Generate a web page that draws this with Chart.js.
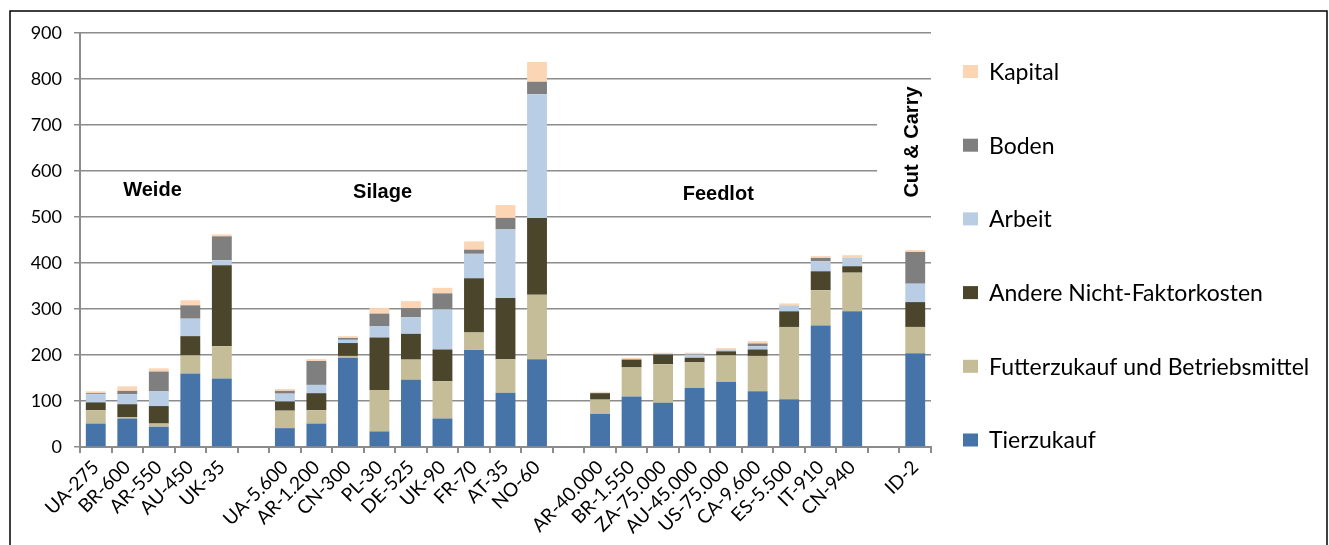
<!DOCTYPE html>
<html>
<head>
<meta charset="utf-8">
<script src="https://cdn.jsdelivr.net/npm/chart.js@4.4.1/dist/chart.umd.min.js"></script>
<style>
  html, body { margin: 0; padding: 0; background: #fff; }
  #wrap { width: 1329px; height: 545px; }
</style>
</head>
<body>
<div id="wrap"><canvas id="c" width="1329" height="545"></canvas></div>
<script>
// Production systems (country - herd size); empty strings separate the groups
const categories = [
  'UA-275', 'BR-600', 'AR-550', 'AU-450', 'UK-35', '',
  'UA-5.600', 'AR-1.200', 'CN-300', 'PL-30', 'DE-525', 'UK-90', 'FR-70', 'AT-35', 'NO-60', '',
  'AR-40.000', 'BR-1.550', 'ZA-75.000', 'AU-45.000', 'US-75.000', 'CA-9.600', 'ES-5.500', 'IT-910', 'CN-940', '',
  'ID-2'
];

// Cost components per system
const tierzukauf = [51, 62, 44, 160, 149, null, 41, 51, 194, 34, 146, 62, 211, 118, 191, null, 72, 110, 96, 128, 142, 121, 104, 264, 295, null, 204];
const futterzukauf = [29, 3, 7, 39, 70, null, 38, 29, 4, 90, 44, 81, 38, 73, 140, null, 31, 63, 84, 56, 57, 77, 157, 77, 84, null, 57];
const andereKosten = [17, 28, 38, 42, 176, null, 20, 37, 28, 114, 56, 69, 118, 133, 167, null, 14, 17, 21, 10, 9, 14, 34, 41, 14, null, 54];
const arbeit = [18, 22, 32, 38, 11, null, 17, 18, 7, 25, 36, 87, 53, 149, 269, null, 1, 1, 1, 7, 2, 7, 13, 22, 18, null, 40];
const boden = [2, 7, 43, 29, 52, null, 6, 52, 4, 27, 20, 35, 9, 25, 27, null, 0, 0, 0, 1, 1, 6, 0, 7, 0, null, 69];
const kapital = [4, 10, 7, 11, 4, null, 4, 4, 4, 12, 15, 12, 18, 28, 43, null, 2, 3, 3, 3, 4, 5, 4, 4, 6, null, 4];

const yTicks = [0, 100, 200, 300, 400, 500, 600, 700, 800, 900];

// Group captions: [text, category position, value position, rotated]
const groupLabels = [
  ['Weide', 1.8, 557, false],
  ['Silage', 9.1, 553, false],
  ['Feedlot', 19.75, 550, false],
  ['Cut & Carry', 25.9, 663, true]
];

const FONT = 'Lato, "Open Sans", sans-serif';
const GRID = '#8c8c8c';

const groupLabelPlugin = {
  id: 'groupLabels',
  beforeDatasetsDraw(chart) {
    const { ctx } = chart;
    const xs = chart.scales.x, ys = chart.scales.y;
    // white panel behind the vertical caption
    const cx = xs.getPixelForValue(25.9);
    ctx.save();
    ctx.fillStyle = '#fff';
    ctx.fillRect(cx - 35, ys.getPixelForValue(782), chart.chartArea.right - (cx - 35) + 1, ys.getPixelForValue(528) - ys.getPixelForValue(782));
    ctx.restore();
  },
  afterDatasetsDraw(chart) {
    const { ctx } = chart;
    const xs = chart.scales.x, ys = chart.scales.y;
    ctx.save();
    ctx.fillStyle = '#000';
    ctx.font = 'bold 20px "Liberation Sans", Arial, sans-serif';
    ctx.textAlign = 'center';
    ctx.textBaseline = 'middle';
    groupLabels.forEach(([t, xv, yv, rot]) => {
      const px = xs.getPixelForValue(xv), py = ys.getPixelForValue(yv);
      if (rot) {
        ctx.save();
        ctx.translate(px, py);
        ctx.rotate(-Math.PI / 2);
        ctx.fillText(t, 0, 0);
        ctx.restore();
      } else {
        ctx.fillText(t, px, py);
      }
    });
    ctx.restore();
  }
};

const sideLegendPlugin = {
  id: 'sideLegend',
  afterDraw(chart) {
    const { ctx } = chart;
    const items = chart.data.datasets.slice().reverse();
    ctx.save();
    ctx.font = '23px ' + FONT;
    ctx.textBaseline = 'middle';
    ctx.textAlign = 'left';
    items.forEach((ds, i) => {
      const y = 71.5 + i * 73.7;
      ctx.fillStyle = ds.backgroundColor;
      ctx.fillRect(963, y - 6.5, 15, 13);
      ctx.fillStyle = '#000';
      ctx.fillText(ds.label, 989, y + 1);
    });
    // outer frame
    ctx.strokeStyle = '#000';
    ctx.lineWidth = 1.5;
    ctx.strokeRect(10, 11, 1317, 560);
    ctx.restore();
  }
};

const whiteBg = {
  id: 'whiteBg',
  beforeDraw(chart) {
    const { ctx } = chart;
    ctx.save();
    ctx.fillStyle = '#fff';
    ctx.fillRect(0, 0, chart.width, chart.height);
    ctx.restore();
  }
};

const mk = (label, data, color) => ({
  label, data, backgroundColor: color, borderWidth: 0,
  categoryPercentage: 1, barPercentage: 0.63
});

new Chart(document.getElementById('c'), {
  type: 'bar',
  data: {
    labels: categories,
    datasets: [
      mk('Tierzukauf', tierzukauf, '#4674A8'),
      mk('Futterzukauf und Betriebsmittel', futterzukauf, '#C4BD97'),
      mk('Andere Nicht-Faktorkosten', andereKosten, '#4A452B'),
      mk('Arbeit', arbeit, '#B9CDE5'),
      mk('Boden', boden, '#7F7F7F'),
      mk('Kapital', kapital, '#FCD5B5')
    ]
  },
  options: {
    responsive: false,
    animation: false,
    layout: { autoPadding: false, padding: { top: 33, right: 398, bottom: 0, left: 0 } },
    plugins: { legend: { display: false }, tooltip: { enabled: false } },
    scales: {
      x: {
        stacked: true,
        afterFit(s) { s.height = 98; },
        grid: { offset: true, drawOnChartArea: false, drawTicks: true, tickLength: 6, color: GRID, lineWidth: 2 },
        border: { color: GRID, width: 2 },
        ticks: {
          color: '#000', font: { family: FONT, size: 19 },
          minRotation: 45, maxRotation: 45, autoSkip: false, padding: 3
        }
      },
      y: {
        stacked: true,
        min: 0, max: 900,
        afterFit(s) { s.width = 80; },
        afterBuildTicks(s) { s.ticks = yTicks.map(v => ({ value: v })); },
        grid: { color: GRID, lineWidth: 1.5, tickLength: 6 },
        border: { color: GRID, width: 2 },
        ticks: { color: '#000', font: { family: FONT, size: 18 }, padding: 12 }
      }
    }
  },
  plugins: [whiteBg, groupLabelPlugin, sideLegendPlugin]
});
</script>
</body>
</html>
